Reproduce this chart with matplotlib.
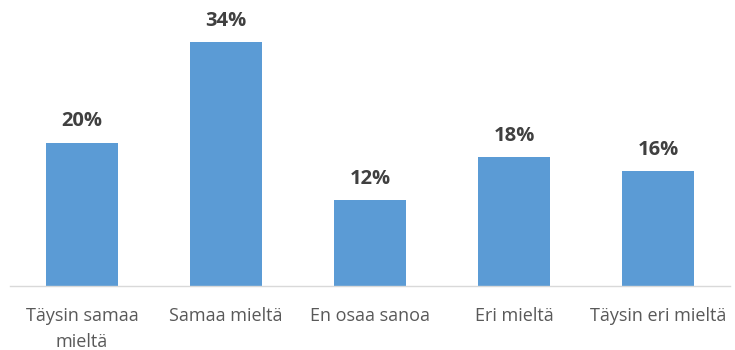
import matplotlib
matplotlib.use("Agg")
import matplotlib.pyplot as plt

categories = ["Täysin samaa\nmieltä", "Samaa mieltä", "En osaa sanoa", "Eri mieltä", "Täysin eri mieltä"]
values = [20, 34, 12, 18, 16]

plt.rcParams["font.family"] = ["Open Sans", "DejaVu Sans"]

fig = plt.figure(figsize=(7.35, 3.5), dpi=100)
ax = fig.add_axes([10 / 735, 64 / 350, 720.5 / 735, 272.5 / 350])

x = range(len(categories))
bars = ax.bar(x, values, width=0.5, color="#5B9BD5")

ax.set_xlim(-0.5, len(categories) - 0.5)
ax.set_ylim(0, 38)

for b, v in zip(bars, values):
    ax.annotate(f"{v}%", (b.get_x() + b.get_width() / 2, v),
                xytext=(0, 8), textcoords="offset points",
                ha="center", va="bottom", fontsize=14.5, fontweight="bold",
                color="#404040")

ax.set_xticks(list(x))
ax.set_xticklabels(categories, fontsize=13, color="#595959", linespacing=1.6)
ax.tick_params(axis="x", length=0, pad=15)
ax.set_yticks([])
for s in ["top", "left", "right"]:
    ax.spines[s].set_visible(False)
ax.spines["bottom"].set_color("#D9D9D9")
ax.spines["bottom"].set_linewidth(1)

fig.savefig("out.png", dpi=100)
